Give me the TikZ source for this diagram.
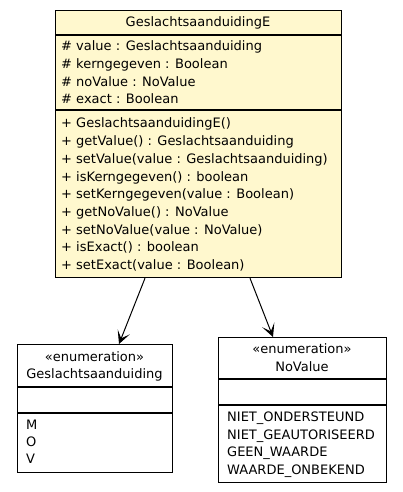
\documentclass[tikz,border=0pt]{standalone}
\usepackage{fontspec}
\setmainfont{DejaVu Sans}
\usetikzlibrary{arrows.meta}
\definecolor{classfill}{RGB}{255,248,206}
\begin{document}
\begin{tikzpicture}[x=1pt,y=-1pt,
  every node/.style={font=\fontsize{13}{15}\selectfont, inner sep=0pt},
  boxstyle/.style={draw, line width=1.2pt, rectangle, anchor=north west, inner sep=0pt},
  sep/.style={line width=1.2pt},
  item/.style={anchor=base west},
  ctitle/.style={anchor=base},
  assoc/.style={line width=1pt, -{Stealth[length=13pt,width=13pt,inset=7pt]}}]
\useasboundingbox (0,0) rectangle (402,492);
\fill[white] (0,0) rectangle (402,492);

% main class
\node[boxstyle, fill=classfill, minimum width=286pt, minimum height=267pt] (main) at (55,10) {};
\draw[sep] (55,35) -- (341,35);
\draw[sep] (55,110) -- (341,110);
\node[ctitle] (mt) at (198,27) {GeslachtsaanduidingE};
\node[item] (a1) at (61,51) {\# value : Geslachtsaanduiding};
\node[item] (a2) at (61,68.6) {\# kerngegeven : Boolean};
\node[item] (a3) at (61,86.2) {\# noValue : NoValue};
\node[item] (a4) at (61,103.8) {\# exact : Boolean};
\node[item] (m1) at (61,128) {+ GeslachtsaanduidingE()};
\node[item] (m2) at (61,145.7) {+ getValue() : Geslachtsaanduiding};
\node[item] (m3) at (61,163.4) {+ setValue(value : Geslachtsaanduiding)};
\node[item] (m4) at (61,181.1) {+ isKerngegeven() : boolean};
\node[item] (m5) at (61,198.8) {+ setKerngegeven(value : Boolean)};
\node[item] (m6) at (61,216.5) {+ getNoValue() : NoValue};
\node[item] (m7) at (61,234.2) {+ setNoValue(value : NoValue)};
\node[item] (m8) at (61,251.9) {+ isExact() : boolean};
\node[item] (m9) at (61,269.6) {+ setExact(value : Boolean)};

% Geslachtsaanduiding enumeration
\node[boxstyle, fill=white, minimum width=155pt, minimum height=128pt] (gs) at (17,344) {};
\draw[sep] (17,387) -- (172,387);
\draw[sep] (17,413) -- (172,413);
\node[ctitle] (gs1) at (94.5,361) {«enumeration»};
\node[ctitle] (gs2) at (94.5,378.5) {Geslachtsaanduiding};
\node[item] (gm) at (26,429.5) {M};
\node[item] (go) at (26,446.5) {O};
\node[item] (gv) at (26,463.5) {V};

% NoValue enumeration
\node[boxstyle, fill=white, minimum width=168pt, minimum height=145pt] (nv) at (218,337) {};
\draw[sep] (218,379) -- (386,379);
\draw[sep] (218,405) -- (386,405);
\node[ctitle] (nv1) at (302,353.5) {«enumeration»};
\node[ctitle] (nv2) at (302,371) {NoValue};
\node[item] (n1) at (227,421.5) {NIET\_ONDERSTEUND};
\node[item] (n2) at (227,439) {NIET\_GEAUTORISEERD};
\node[item] (n3) at (227,456.5) {GEEN\_WAARDE};
\node[item] (n4) at (227,474) {WAARDE\_ONBEKEND};

% connectors
\coordinate (s1) at ([xshift=90pt]main.south west);
\coordinate (t1) at ([xshift=102pt]gs.north west);
\coordinate (s2) at ([xshift=195pt]main.south west);
\coordinate (t2) at ([xshift=55pt]nv.north west);
\draw[assoc] (s1) -- (t1);
\draw[assoc] (s2) -- (t2);
\end{tikzpicture}
\end{document}
